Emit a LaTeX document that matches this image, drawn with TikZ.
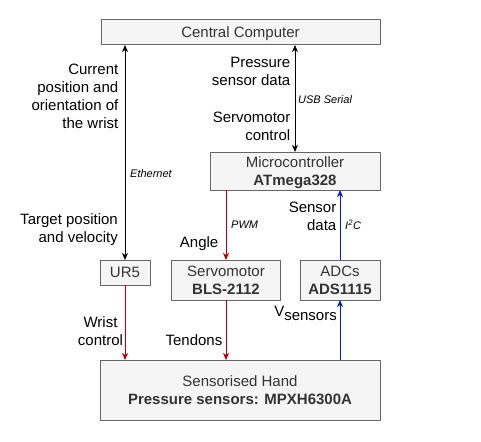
\documentclass[tikz,border=0pt]{standalone}
\usepackage{fontspec}
\setmainfont{Liberation Sans}
\usetikzlibrary{arrows.meta}
\definecolor{boxfill}{HTML}{F5F5F5}
\definecolor{boxline}{HTML}{666666}
\definecolor{boxtext}{HTML}{333333}
\definecolor{wirered}{HTML}{B20000}
\definecolor{wireblue}{HTML}{001DBC}
\begin{document}
\begin{tikzpicture}[x=1pt,y=-1pt,
  box/.style={draw=boxline,fill=boxfill,text=boxtext,line width=1pt,inner sep=0pt,outer sep=0pt,
    align=center,text depth=0pt,font=\fontsize{15}{18}\selectfont},
  lbl/.style={inner sep=0pt,align=right,font=\fontsize{15}{18}\selectfont},
  tag/.style={inner sep=0pt,anchor=west,font=\fontsize{11}{13}\selectfont\itshape},
  wire/.style={line width=1pt,-{Stealth[length=7pt,width=6pt,inset=2pt]}},
  wire2/.style={line width=1pt,{Stealth[length=7pt,width=6pt,inset=2pt]}-{Stealth[length=7pt,width=6pt,inset=2pt]}}]
  \fill[color=white] (0,0) rectangle (481,441);
  \useasboundingbox (0,0) rectangle (481,441);
  \node[box,minimum width=279,minimum height=25] (cc) at (240.5,32.5)
    {Central Computer};
  \node[box,minimum width=170,minimum height=38] (mcu) at (295,171)
    {Microcontroller\\\textbf{ATmega328}};
  \node[box,minimum width=50,minimum height=25] (ur5) at (125,272.5)
    {UR5};
  \node[box,minimum width=109,minimum height=40] (servo) at (226,280)
    {Servomotor\\\textbf{BLS-2112}};
  \node[box,minimum width=80,minimum height=40] (adc) at (340,280)
    {ADCs\\\textbf{ADS1115}};
  \node[box,minimum width=280,minimum height=60] (hand) at (240,390)
    {Sensorised Hand\\\textbf{Pressure sensors: MPXH6300A}};
  \draw[wire2] (ur5.north |- cc.south) -- (ur5.north);
  \draw[wire2] (mcu.north |- cc.south) -- (mcu.north);
  \draw[wire,color=wirered] (servo.north |- mcu.south) -- (servo.north);
  \draw[wire,color=wirered] (servo.south) -- (servo.south |- hand.north);
  \draw[wire,color=wirered] (ur5.south) -- (ur5.south |- hand.north);
  \draw[wire,color=wireblue] (adc.north) -- (adc.north |- mcu.south);
  \draw[wire,color=wireblue] (adc.south |- hand.north) -- (adc.south);
  \node[lbl,anchor=east] (curpos) at (118.5,96)
    {Current\\position and\\orientation of\\the wrist};
  \node[tag] (eth) at (130,174) {Ethernet};
  \node[lbl,anchor=east] (target) at (118,230)
    {Target position\\and velocity};
  \node[lbl,anchor=east] (press) at (290.5,71)
    {Pressure\\sensor data};
  \node[tag] (usb) at (298,100) {USB Serial};
  \node[lbl,anchor=east] (srvctl) at (290.5,126)
    {Servomotor\\control};
  \node[tag] (pwm) at (231,225) {PWM};
  \node[lbl,anchor=east] (angle) at (218.5,244) {Angle};
  \node[lbl,anchor=east] (sdata) at (336.5,216.5)
    {Sensor\\data};
  \node[tag] (i2c) at (345,225) {I\textsuperscript{2}C};
  \node[lbl,align=center] (wrist) at (100.5,331)
    {Wrist\\control};
  \node[lbl,anchor=east] (tendons) at (222.5,340) {Tendons};
  \node[lbl,anchor=east] (vsens) at (337,313)
    {V\raisebox{-4pt}{sensors}};
\end{tikzpicture}
\end{document}
